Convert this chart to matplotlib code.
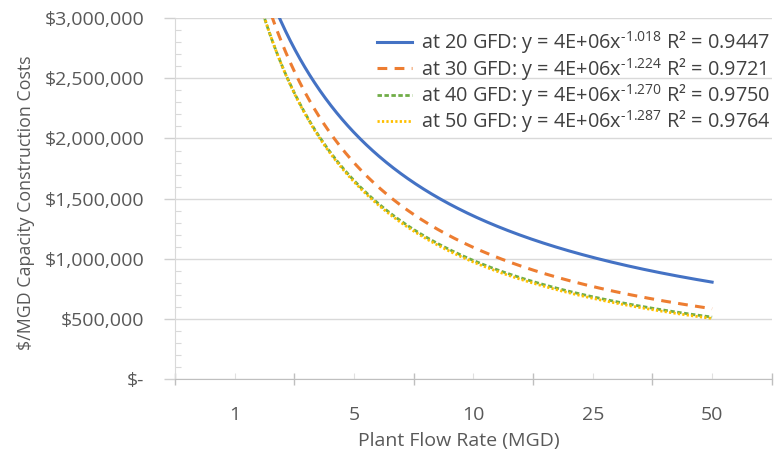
import numpy as np
import matplotlib
matplotlib.use("Agg")
import matplotlib.pyplot as plt
from matplotlib.ticker import FixedLocator, MultipleLocator, FuncFormatter, NullFormatter

plt.rcParams['font.family'] = ['Open Sans', 'DejaVu Sans']
plt.rcParams['mathtext.default'] = 'regular'

# Plant flow-rate categories (MGD) on the x axis
flow_categories = ["1", "5", "10", "25", "50"]

# Power-law trendlines y = a * x^-b, fitted against category index
flux_gfd = [20, 30, 40, 50]
coef_a = [4.15e6, 4.2e6, 3.98e6, 4.0e6]
exponent_b = [1.018, 1.224, 1.270, 1.287]
exponent_text = ["1.018", "1.224", "1.270", "1.287"]
r_squared = ["0.9447", "0.9721", "0.9750", "0.9764"]

colors = ["#4472C4", "#ED7D31", "#70AD47", "#FFC000"]
styles = ["-", (0, (3.2, 2.4)), (0, (1.6, 0.9)), (0, (0.8, 0.8))]
widths = [2.2, 2.2, 2.0, 2.0]

TEXT = '#595959'

fig = plt.figure(figsize=(7.78, 4.53), dpi=100)
ax = fig.add_axes([0.225, 0.163, 0.767, 0.797])

n = len(flow_categories)
xs = np.linspace(1, n, 600)
for g, a, b, e, r, c, ls, lw in zip(flux_gfd, coef_a, exponent_b, exponent_text,
                                    r_squared, colors, styles, widths):
    label = f"at {g} GFD: y = 4E+06x$^{{\u2010{e}}}$ R² = {r}"
    ax.plot(xs, a * xs ** (-b), color=c, linestyle=ls, linewidth=lw, label=label,
            dash_capstyle='butt')

ax.set_xlim(0.5, n + 0.5)
ax.set_ylim(0, 3_000_000)

# x axis: labels at category centers, tick marks between categories
ax.xaxis.set_major_locator(FixedLocator(np.arange(0.5, n + 1, 1.0)))
ax.xaxis.set_major_formatter(NullFormatter())
ax.xaxis.set_minor_locator(FixedLocator(np.arange(1, n + 1)))
ax.set_xticklabels(flow_categories, minor=True)
ax.tick_params(axis='x', which='major', direction='inout', length=9, width=1, color='#BFBFBF')
ax.tick_params(axis='x', which='minor', direction='in', length=4, width=0.8, color='#E0E0E0',
               labelsize=14, labelcolor=TEXT, pad=19)

# y axis: currency ticks
ax.yaxis.set_major_locator(MultipleLocator(500_000))
ax.yaxis.set_minor_locator(MultipleLocator(100_000))
ax.yaxis.set_major_formatter(FuncFormatter(lambda v, p: "$-" if v == 0 else f"${v:,.0f}"))
ax.tick_params(axis='y', which='major', direction='out', length=8, width=1, color='#D0D0D0',
               labelsize=14, labelcolor=TEXT, pad=14)
ax.tick_params(axis='y', which='minor', direction='in', length=4, width=0.8, color='#D9D9D9')

ax.grid(axis='y', which='major', color='#D9D9D9', linewidth=1)
ax.set_axisbelow(True)
for side in ['top', 'right']:
    ax.spines[side].set_visible(False)
ax.spines['left'].set_color('#D9D9D9')
ax.spines['bottom'].set_color('#BFBFBF')

ax.set_xlabel("Plant Flow Rate (MGD)", fontsize=14, color=TEXT)
ax.xaxis.set_label_coords(0.476, -0.145)
ax.set_ylabel("$/MGD Capacity Construction Costs", fontsize=12.8, color=TEXT)
ax.yaxis.set_label_coords(-0.235, 0.49)

leg = ax.legend(loc='upper right', bbox_to_anchor=(1.005, 0.98), frameon=False,
                fontsize=14.3, labelcolor='#404040', handlelength=1.75, handletextpad=0.45,
                labelspacing=-0.03, borderaxespad=0.0, borderpad=0.2)

fig.savefig("out.png", dpi=100)
